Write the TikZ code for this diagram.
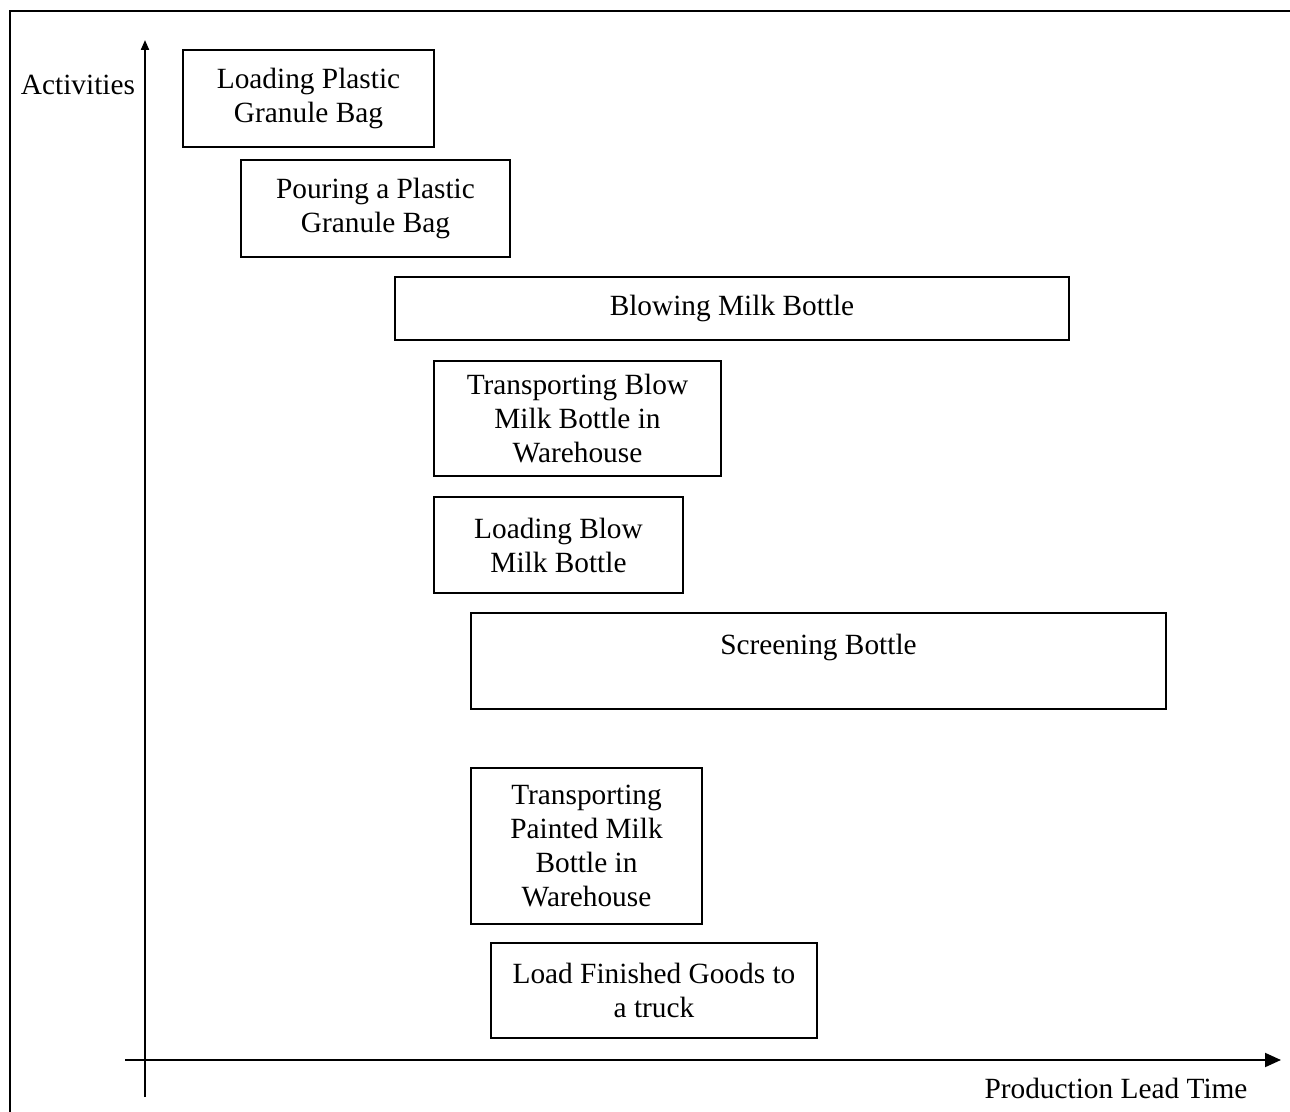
\documentclass[tikz,border=0pt]{standalone}
\usepackage{fontspec}
\setmainfont{Liberation Serif}
\usetikzlibrary{arrows.meta}

\tikzset{
  act/.style={draw, line width=1.5pt, align=center, inner sep=0pt, font=\fontsize{22}{25.5}\selectfont},
  lbl/.style={inner sep=0pt, font=\fontsize{22}{25.5}\selectfont},
  axis/.style={line width=1.5pt}
}

\begin{document}
\begin{tikzpicture}[x=0.75pt,y=0.75pt,yscale=-1,xscale=1]
\useasboundingbox (0,0) rectangle (1290,1112);

%Frame
\draw [line width=2pt] (10,1112) -- (10,11) -- (1290,11) ;

%Axes
\coordinate (ybot) at (145,1097);
\coordinate (ytop) at (145,40);
\coordinate (xleft) at (125,1060);
\coordinate (xright) at (1281,1060);
\draw [axis, -{Triangle[length=7.5pt,width=6pt]}] (ybot) -- (ytop) ;
\draw [axis, -{Triangle[length=12pt,width=10.5pt]}] (xleft) -- (xright) ;

% Text Node
\node [lbl] (act) at (78,85) {Activities};
% Text Node
\node [lbl] (plt) at (1116,1088) {Production Lead Time};

%Shape: Rectangle
\node [act, minimum width=188.25pt, minimum height=72.75pt] (loadbag) at (308.5,98.5) {Loading Plastic\\Granule Bag};
%Shape: Rectangle
\node [act, minimum width=201.75pt, minimum height=72.75pt] (pourbag) at (375.5,208.5) {Pouring a Plastic\\Granule Bag};
%Shape: Rectangle
\node [act, minimum width=505.5pt, minimum height=47.25pt] (blow) at (732,308.5) {Blowing Milk Bottle};
%Shape: Rectangle
\node [act, minimum width=215.25pt, minimum height=86.25pt] (transblow) at (577.5,418.5) {Transporting Blow\\Milk Bottle in\\Warehouse};
%Shape: Rectangle
\node [act, minimum width=186.75pt, minimum height=72pt] (loadblow) at (558.5,545) {Loading Blow\\Milk Bottle};
%Shape: Rectangle
\node [act, minimum width=521.25pt, minimum height=72pt] (screen) at (818.5,661) {Screening Bottle\\\mbox{}};
%Shape: Rectangle
\node [act, minimum width=173.25pt, minimum height=117pt] (transpaint) at (586.5,846) {Transporting\\Painted Milk\\Bottle in\\Warehouse};
%Shape: Rectangle
\node [act, minimum width=244.5pt, minimum height=71.25pt] (truck) at (654,990.5) {Load Finished Goods to\\a truck};

\end{tikzpicture}
\end{document}
